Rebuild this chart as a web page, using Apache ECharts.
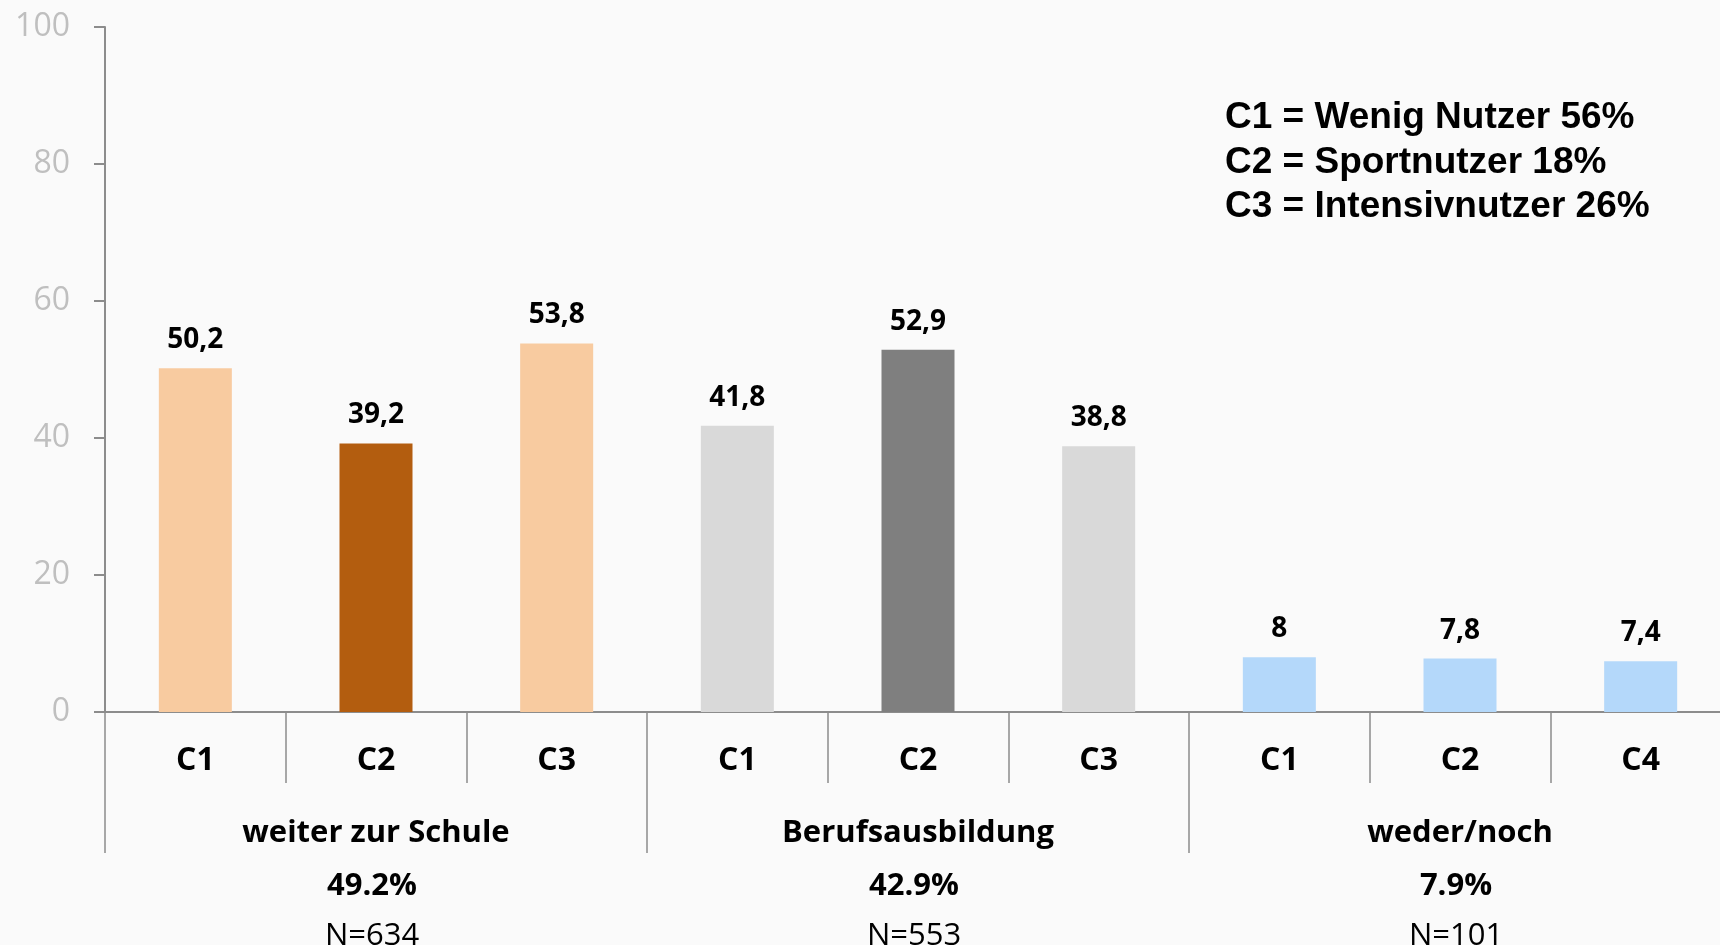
<!DOCTYPE html>
<html>
<head>
<meta charset="utf-8">
<script src="https://cdn.jsdelivr.net/npm/echarts@6/dist/echarts.min.js"></script>
<style>
html,body{margin:0;padding:0;background:#FAFAFA;}
#chart{width:1720px;height:945px;}
</style>
</head>
<body>
<div id="chart"></div>
<script>
// ---- data ----
const categories = ['C1','C2','C3','C1','C2','C3','C1','C2','C4'];
const values = [50.2, 39.2, 53.8, 41.8, 52.9, 38.8, 8, 7.8, 7.4];
const groupNames = ['weiter zur Schule','Berufsausbildung','weder/noch'];
const groupShares = ['49.2%','42.9%','7.9%'];
const groupN = ['N=634','N=553','N=101'];
const yTicks = [0, 20, 40, 60, 80, 100];
const legendLines = ['C1 = Wenig Nutzer 56%','C2 = Sportnutzer 18%','C3 = Intensivnutzer 26%'];
// ---- styles ----
const barColors = ['#F8CBA0','#B35D0F','#F8CBA0','#D9D9D9','#7F7F7F','#D9D9D9','#B4D8FA','#B4D8FA','#B4D8FA'];

const FONT = 'Open Sans';
const axisColor = '#8C8C8C';

const chart = echarts.init(document.getElementById('chart'));
chart.setOption({
  backgroundColor: '#FAFAFA',
  animation: false,
  grid: { left: 105, top: 27, width: 1626, height: 685, containLabel: false, outerBoundsMode: 'none' },
  xAxis: [
    {
      type: 'category',
      data: categories,
      axisLine: { show: true, lineStyle: { color: axisColor, width: 2 } },
      axisTick: { show: true, interval: 0, length: 71, lineStyle: { color: axisColor, width: 1.5 } },
      axisLabel: {
        interval: 0, margin: 31,
        fontFamily: FONT, fontWeight: 'bold', fontSize: 32, color: '#000', lineHeight: 36
      }
    },
    {
      type: 'category',
      data: groupNames,
      position: 'bottom',
      axisLine: { show: false },
      axisTick: { show: true, interval: 0, length: 141, lineStyle: { color: axisColor, width: 1.5 } },
      axisLabel: {
        interval: 0, margin: 95,
        formatter: function (v, idx) {
          return '{b|' + groupNames[idx] + '}\n{p|' + groupShares[idx] + '}\n{n|' + groupN[idx] + '}';
        },
        rich: {
          b: { fontFamily: FONT, fontWeight: 'bold', fontSize: 31, color: '#000', lineHeight: 53 },
          p: { fontFamily: FONT, fontWeight: 'bold', fontSize: 31, color: '#000', lineHeight: 53, padding: [0, 8, 0, 0] },
          n: { fontFamily: FONT, fontWeight: 'normal', fontSize: 31, color: '#000', lineHeight: 46, padding: [0, 8, 0, 0] }
        }
      }
    }
  ],
  yAxis: {
    type: 'value',
    min: yTicks[0], max: yTicks[yTicks.length - 1], interval: yTicks[1] - yTicks[0],
    axisLine: { show: true, lineStyle: { color: axisColor, width: 2 } },
    axisTick: { show: true, length: 11, lineStyle: { color: axisColor, width: 2 } },
    splitLine: { show: false },
    axisLabel: { margin: 35, fontFamily: FONT, fontSize: 32, color: '#BFBFBF', padding: [5, 0, 0, 0] }
  },
  series: [{
    type: 'bar',
    xAxisIndex: 0,
    barWidth: 73,
    data: values.map((v, i) => ({ value: v, itemStyle: { color: barColors[i] } })),
    label: {
      show: true, position: 'top', distance: 14,
      fontFamily: FONT, fontWeight: 'bold', fontSize: 28, color: '#000',
      formatter: p => String(p.value).replace('.', ',')
    }
  }],
  graphic: [{
    type: 'text',
    left: 1225, top: 96,
    style: {
      text: legendLines.join('\n'),
      font: 'bold 37px "Liberation Sans", Arial, sans-serif',
      fill: '#000',
      lineHeight: 44.5
    }
  }]
});
</script>
</body>
</html>
